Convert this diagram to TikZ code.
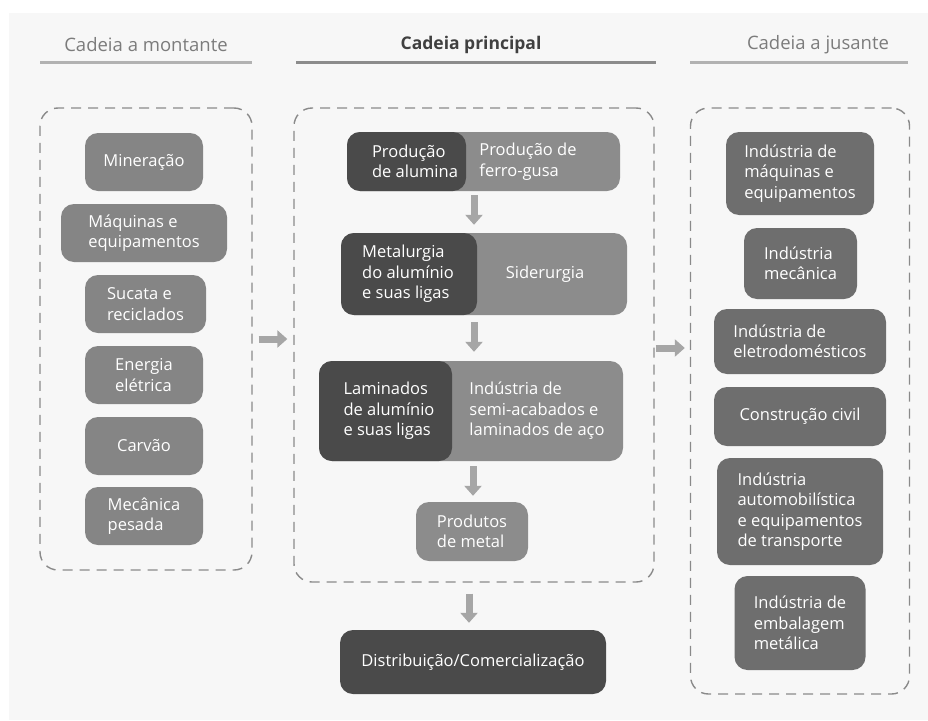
\documentclass[tikz,border=0pt]{standalone}
\usepackage{fontspec}
\setmainfont{Open Sans}
\usetikzlibrary{arrows.meta}
\definecolor{bgc}{HTML}{F7F7F7}
\definecolor{lgray}{HTML}{858585}
\definecolor{rgray}{HTML}{6E6E6E}
\definecolor{dgray}{HTML}{4A4A4A}
\definecolor{mgray}{HTML}{8C8C8C}
\definecolor{arrc}{HTML}{A6A6A6}
\definecolor{dashc}{HTML}{8A8A8A}
\definecolor{hgray}{HTML}{7C7C7C}
\tikzset{
  box/.style={rounded corners=13pt, text=white, align=left, inner sep=0pt,
    font=\fontsize{16.5}{20.5}\selectfont},
  lnode/.style={box, fill=lgray},
  rnode/.style={box, fill=rgray},
  dnode/.style={box, fill=dgray},
  mnode/.style={box, fill=mgray},
  txt/.style={text=white, align=left, inner sep=0pt, font=\fontsize{16.5}{20.5}\selectfont},
  group/.style={draw=dashc, line width=1.4pt, dash pattern=on 10pt off 7pt, rounded corners=18pt},
  flow/.style={draw=arrc, line width=7pt, -{Triangle[length=10pt,width=17pt]}},
  hdr/.style={font=\fontsize{18.5}{22}\selectfont, text=hgray},
  hline/.style={draw=black!30, line width=3pt}
}
\begin{document}
\begin{tikzpicture}[x=1pt,y=-1pt]
\useasboundingbox (0,0) rectangle (928,720);
\fill[bgc] (9,13) rectangle (928,720);
% headers
\node[hdr] (h1) at (146,45) {Cadeia a montante};
\node[hdr, text=black!75, font=\fontsize{17.5}{22}\selectfont\bfseries] (h2) at (471,45) {Cadeia principal};
\node[hdr] (h3) at (818,45) {Cadeia a jusante};
\draw[hline] (40,62) -- (252,62);
\draw[hline, draw=black!45] (296,62) -- (656,62);
\draw[hline] (690,62) -- (908,62);
% group boxes
\node[group, minimum width=212pt, minimum height=462pt] (lbox) at (146,339) {};
\node[group, minimum width=360pt, minimum height=474pt] (mbox) at (474,345) {};
\node[group, minimum width=219pt, minimum height=586pt] (rbox) at (800,401) {};
% left chain
\node[lnode, minimum width=118pt, minimum height=58pt] (l1) at (144,162) {Mineração};
\node[lnode, minimum width=166pt, minimum height=58pt] (l2) at (144,233) {Máquinas e\\equipamentos};
\node[lnode, minimum width=121pt, minimum height=58pt] (l3) at (145.5,304) {Sucata e\\reciclados};
\node[lnode, minimum width=118pt, minimum height=58pt] (l4) at (144,375) {Energia\\elétrica};
\node[lnode, minimum width=118pt, minimum height=58pt] (l5) at (144,446) {Carvão};
\node[lnode, minimum width=118pt, minimum height=58pt] (l6) at (144,516) {Mecânica\\pesada};
% main chain
\node[mnode, minimum width=273pt, minimum height=59pt,
  path picture={\fill[dgray] (path picture bounding box.north west) rectangle ([xshift=119pt]path picture bounding box.south west);}] (m1) at (483.5,161.5) {};
\node[txt] (m1a) at (415,161.5) {Produção\\de alumina};
\node[txt] (m1b) at (528,161.5) {Produção de\\ferro-gusa};
\node[mnode, minimum width=286pt, minimum height=82pt,
  path picture={\fill[dgray] (path picture bounding box.north west) rectangle ([xshift=136pt]path picture bounding box.south west);}] (m2) at (484,274) {};
\node[txt] (m2a) at (408,274) {Metalurgia\\do alumínio\\e suas ligas};
\node[txt] (m2b) at (545,274) {Siderurgia};
\node[mnode, minimum width=304pt, minimum height=100pt,
  path picture={\fill[dgray] (path picture bounding box.north west) rectangle ([xshift=133pt]path picture bounding box.south west);}] (m3) at (471,411) {};
\node[txt] (m3a) at (389,411) {Laminados\\de alumínio\\e suas ligas};
\node[txt] (m3b) at (537,411) {Indústria de\\semi-acabados e\\laminados de aço};
\node[mnode, minimum width=112pt, minimum height=59pt] (m4) at (472,531.5) {Produtos\\de metal};
\node[dnode, minimum width=266pt, minimum height=64pt] (dist) at (473,662) {Distribuição/Comercialização};
% right chain
\node[rnode, minimum width=148pt, minimum height=83pt] (r1) at (800,173.5) {Indústria de\\máquinas e\\equipamentos};
\node[rnode, minimum width=113pt, minimum height=71pt] (r2) at (800.5,263.5) {Indústria\\mecânica};
\node[rnode, minimum width=172pt, minimum height=65pt] (r3) at (800,341.5) {Indústria de\\eletrodomésticos};
\node[rnode, minimum width=172pt, minimum height=59pt] (r4) at (800,416.5) {Construção civil};
\node[rnode, minimum width=166pt, minimum height=107pt] (r5) at (800,511.5) {Indústria\\automobilística\\e equipamentos\\de transporte};
\node[rnode, minimum width=131pt, minimum height=94pt] (r6) at (800,623) {Indústria de\\embalagem\\metálica};
% arrows
\draw[flow, shorten <=4pt, shorten >=8pt] (m1.south -| 474,0) -- (m2.north -| 474,0);
\draw[flow, shorten <=7pt, shorten >=9pt] (m2.south -| 474,0) -- (m3.north -| 474,0);
\draw[flow, shorten <=5pt, shorten >=6pt] (m3.south -| 473,0) -- (m4.north -| 473,0);
\draw[flow, shorten <=11pt, shorten >=7pt] (mbox.south -| dist.north) ++(-4,0) coordinate (a4s) -- (a4s |- dist.north);
\draw[flow, shorten <=6pt, shorten >=6pt] (lbox.east) -- (lbox.east -| mbox.west);
\draw[flow, shorten <=1pt, shorten >=5pt] (mbox.east) ++(0,3) coordinate (a6s) -- (a6s -| rbox.west);
\end{tikzpicture}
\end{document}
